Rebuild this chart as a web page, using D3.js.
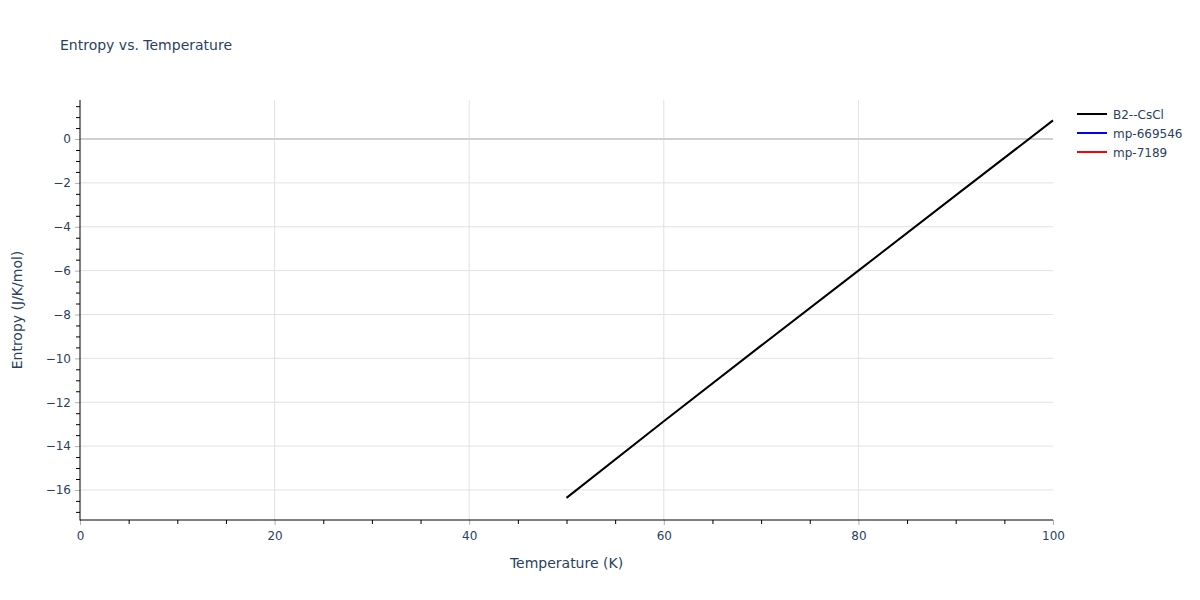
<!DOCTYPE html>
<html>
<head>
<meta charset="utf-8">
<script src="https://cdn.jsdelivr.net/npm/d3@7"></script>
<style>
  body { margin: 0; background: #fff; }
  text { font-family: "DejaVu Sans", Verdana, sans-serif; }
</style>
</head>
<body>
<div id="chart"></div>
<script>
const width = 1200;
const height = 600;

// data
const temperature = [50, 60, 70, 80, 90, 100];
const entropyB2 = [-16.36, -12.87, -9.42, -6.0, -2.57, 0.85];
const seriesNames = ["B2--CsCl", "mp-669546", "mp-7189"];
const seriesColors = ["#000000", "#0000ff", "#ff0000"];
const seriesValues = [entropyB2, [], []];
const yTicks = [-16, -14, -12, -10, -8, -6, -4, -2, 0];
const xTicks = [0, 20, 40, 60, 80, 100];

const margin = {left: 80, right: 147, top: 100, bottom: 80};
const textColor = "#2a3f5f";

const x = d3.scaleLinear().domain([0, 100]).range([margin.left, width - margin.right]);
const y = d3.scaleLinear().domain([-17.37, 1.78]).range([height - margin.bottom, margin.top]);

const svg = d3.create("svg")
    .attr("width", width)
    .attr("height", height);

// grille
const grid = svg.append("g");
grid.selectAll("line.gx")
  .data(xTicks.filter(d => d > 0 && d < 100))
  .join("line")
    .attr("x1", d => x(d)).attr("x2", d => x(d))
    .attr("y1", y.range()[1]).attr("y2", y.range()[0])
    .attr("stroke", "#e2e2e2").attr("stroke-width", 1);
grid.selectAll("line.gy")
  .data(yTicks.filter(d => d !== 0))
  .join("line")
    .attr("x1", x.range()[0]).attr("x2", x.range()[1])
    .attr("y1", d => y(d)).attr("y2", d => y(d))
    .attr("stroke", "#e2e2e2").attr("stroke-width", 1);
// ligne zéro
grid.append("line")
    .attr("x1", x.range()[0]).attr("x2", x.range()[1])
    .attr("y1", y(0)).attr("y2", y(0))
    .attr("stroke", "#d0d0d0").attr("stroke-width", 2);

// axes
const minorX = d3.range(5, 100, 5).filter(d => d % 20 !== 0);
const minorY = d3.range(-17, 1.6, 0.5).filter(d => Math.abs(d % 2) > 0.01);

const xAxis = svg.append("g")
    .attr("transform", `translate(0,${y.range()[0]})`);
xAxis.call(d3.axisBottom(x).tickValues(minorX).tickSize(4).tickFormat(""))
    .call(g => g.select(".domain").remove())
    .call(g => g.selectAll(".tick line").attr("stroke", "#000"));
const xMajor = svg.append("g")
    .attr("transform", `translate(0,${y.range()[0]})`)
    .call(d3.axisBottom(x).tickValues(xTicks).tickSize(5).tickPadding(6))
    .call(g => g.select(".domain").remove())
    .call(g => g.selectAll(".tick line").attr("stroke", "#b0b0b0"))
    .call(g => g.selectAll(".tick text").attr("fill", textColor).attr("font-size", 12)
      .attr("font-family", "DejaVu Sans, Verdana, sans-serif"));

const yAxis = svg.append("g")
    .attr("transform", `translate(${x.range()[0]},0)`);
yAxis.call(d3.axisLeft(y).tickValues(minorY).tickSize(4).tickFormat(""))
    .call(g => g.select(".domain").remove())
    .call(g => g.selectAll(".tick line").attr("stroke", "#000"));
svg.append("g")
    .attr("transform", `translate(${x.range()[0]},0)`)
    .call(d3.axisLeft(y).tickValues(yTicks).tickSize(5).tickPadding(4)
      .tickFormat(d => d < 0 ? "\u2212" + Math.abs(d) : d))
    .call(g => g.select(".domain").remove())
    .call(g => g.selectAll(".tick line").attr("stroke", "#b0b0b0"))
    .call(g => g.selectAll(".tick text").attr("fill", textColor).attr("font-size", 12)
      .attr("font-family", "DejaVu Sans, Verdana, sans-serif"));

// lignes d'axe
svg.append("line")
    .attr("x1", x.range()[0]).attr("x2", x.range()[0])
    .attr("y1", y.range()[1]).attr("y2", y.range()[0] + 0.5)
    .attr("stroke", "#000");
svg.append("line")
    .attr("x1", x.range()[0]).attr("x2", x.range()[1])
    .attr("y1", y.range()[0]).attr("y2", y.range()[0])
    .attr("stroke", "#000");

// courbes
const line = d3.line()
    .x((d, i) => x(temperature[i]))
    .y(d => y(d));
seriesValues.forEach((vals, i) => {
  if (!vals.length) return;
  svg.append("path")
      .datum(vals)
      .attr("fill", "none")
      .attr("stroke", seriesColors[i])
      .attr("stroke-width", 2)
      .attr("d", line);
});

// titres
svg.append("text")
    .attr("x", 60).attr("y", 50)
    .attr("fill", textColor).attr("font-size", 14)
    .text("Entropy vs. Temperature");
svg.append("text")
    .attr("x", (x.range()[0] + x.range()[1]) / 2).attr("y", 568)
    .attr("text-anchor", "middle")
    .attr("fill", textColor).attr("font-size", 14)
    .text("Temperature (K)");
svg.append("text")
    .attr("transform", `translate(22,${(y.range()[0] + y.range()[1]) / 2}) rotate(-90)`)
    .attr("text-anchor", "middle")
    .attr("fill", textColor).attr("font-size", 14)
    .text("Entropy (J/K/mol)");

// légende
const legend = svg.append("g")
  .selectAll("g")
  .data(seriesNames)
  .join("g")
    .attr("transform", (d, i) => `translate(1077,${114 + i * 19})`);
legend.append("line")
    .attr("x1", 0).attr("x2", 30)
    .attr("stroke", (d, i) => seriesColors[i])
    .attr("stroke-width", 2);
legend.append("text")
    .attr("x", 36).attr("y", 4.5)
    .attr("fill", textColor).attr("font-size", 12)
    .text(d => d);

document.getElementById("chart").appendChild(svg.node());
</script>
</body>
</html>
